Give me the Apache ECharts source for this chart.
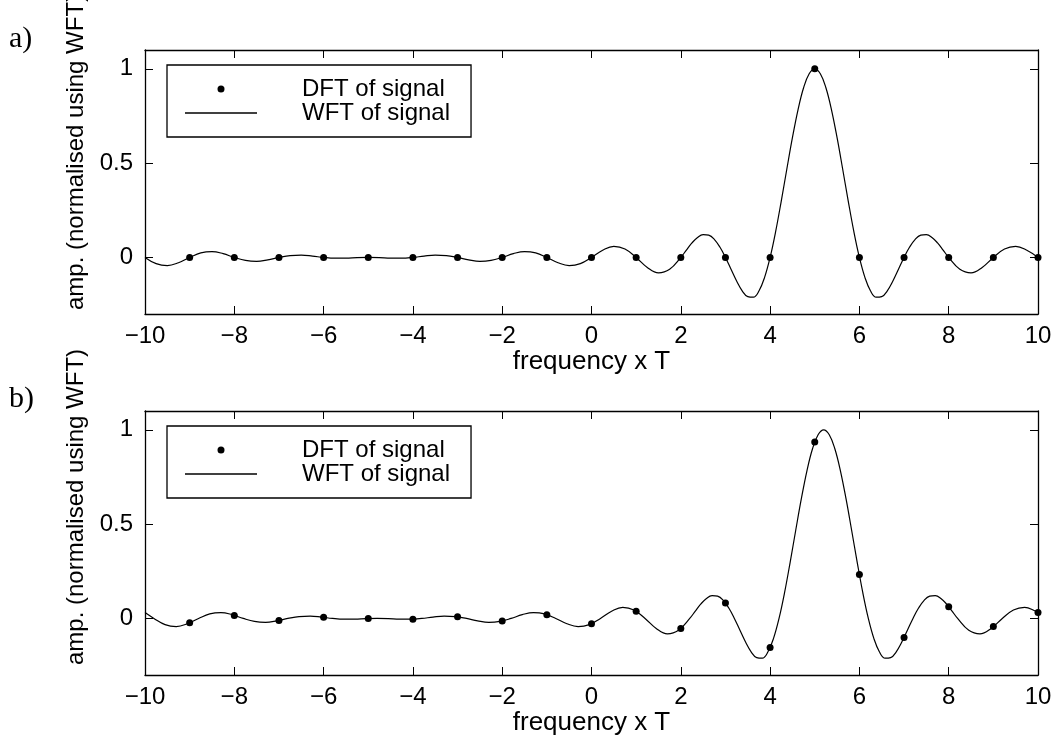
<!DOCTYPE html>
<html>
<head>
<meta charset="utf-8">
<title>DFT and WFT of signal</title>
<script src="https://cdn.jsdelivr.net/npm/echarts@6/dist/echarts.min.js"></script>
<style>
  html, body { margin: 0; padding: 0; background: #fff; }
  #chart { width: 1058px; height: 746px; }
</style>
</head>
<body>
<div id="chart"></div>
<script>
// Panel a): signal frequency falls exactly on a DFT bin (peak at 5)
const freqA = [-10,-9.75,-9.5,-9.25,-9,-8.75,-8.5,-8.25,-8,-7.75,-7.5,-7.25,-7,-6.75,-6.5,-6.25,-6,-5.75,-5.5,-5.25,
  -5,-4.75,-4.5,-4.25,-4,-3.75,-3.5,-3.25,-3,-2.75,-2.5,-2.25,-2,-1.75,-1.5,-1.25,-1,-0.75,-0.5,-0.25,
  0,0.25,0.5,0.75,1,1.25,1.5,1.75,
  2,2.125,2.25,2.375,2.5,2.625,2.75,2.875,3,3.125,3.25,3.375,3.5,3.625,3.75,3.875,
  4,4.125,4.25,4.375,4.5,4.625,4.75,4.875,5,5.125,5.25,5.375,5.5,5.625,5.75,5.875,
  6,6.125,6.25,6.375,6.5,6.625,6.75,6.875,7,7.125,7.25,7.375,7.5,7.625,7.75,7.875,8,
  8.25,8.5,8.75,9,9.25,9.5,9.75,10];
const wftA = [0,-0.033,-0.043,-0.028,0,0.024,0.031,0.020,0,-0.016,-0.021,-0.013,0,0.010,0.012,0.007,0,-0.004,-0.004,-0.001,
  0,-0.001,-0.004,-0.004,0,0.007,0.012,0.010,0,-0.013,-0.021,-0.016,0,0.020,0.031,0.024,0,-0.028,-0.043,-0.033,
  0,0.038,0.059,0.045,0,-0.053,-0.082,-0.063,
  0,0.039,0.077,0.106,0.121,0.118,0.096,0.055,0,-0.063,-0.125,-0.177,-0.208,-0.211,-0.178,-0.107,
  0,0.138,0.299,0.469,0.635,0.783,0.900,0.974,1,0.974,0.900,0.783,0.635,0.469,0.299,0.138,
  0,-0.107,-0.178,-0.211,-0.208,-0.177,-0.125,-0.063,0,0.055,0.096,0.118,0.121,0.106,0.077,0.039,0,
  -0.063,-0.082,-0.053,0,0.045,0.059,0.038,0];

// Panel b): signal frequency between bins (peak at 5.2)
const freqB = [-10,-9.8,-9.55,-9.3,-9.05,-8.8,-8.55,-8.3,-8.05,-7.8,-7.55,-7.3,-7.05,-6.8,-6.55,-6.3,-6.05,-5.8,-5.55,-5.3,
  -5.05,-4.8,-4.55,-4.3,-4.05,-3.8,-3.55,-3.3,-3.05,-2.8,-2.55,-2.3,-2.05,-1.8,-1.55,-1.3,-1.05,-0.8,-0.55,-0.3,
  -0.05,0.2,0.45,0.7,0.95,1.2,1.45,1.7,1.95,
  2.2,2.325,2.45,2.575,2.7,2.825,2.95,3.075,3.2,3.325,3.45,3.575,3.7,3.825,3.95,4.075,
  4.2,4.325,4.45,4.575,4.7,4.825,4.95,5.075,5.2,5.325,5.45,5.575,5.7,5.825,5.95,6.075,
  6.2,6.325,6.45,6.575,6.7,6.825,6.95,7.075,7.2,7.325,7.45,7.575,7.7,7.825,7.95,8.075,8.2,
  8.45,8.7,8.95,9.2,9.45,9.7,9.95,10];
const wftB = [0.031,0,-0.033,-0.043,-0.028,0,0.024,0.031,0.020,0,-0.016,-0.021,-0.013,0,0.010,0.012,0.007,0,-0.004,-0.004,
  -0.001,0,-0.001,-0.004,-0.004,0,0.007,0.012,0.010,0,-0.013,-0.021,-0.016,0,0.020,0.031,0.024,0,-0.028,-0.043,
  -0.033,0,0.038,0.059,0.045,0,-0.053,-0.082,-0.063,
  0,0.039,0.077,0.106,0.121,0.118,0.096,0.055,0,-0.063,-0.125,-0.177,-0.208,-0.211,-0.178,-0.107,
  0,0.138,0.299,0.469,0.635,0.783,0.900,0.974,1,0.974,0.900,0.783,0.635,0.469,0.299,0.138,
  0,-0.107,-0.178,-0.211,-0.208,-0.177,-0.125,-0.063,0,0.055,0.096,0.118,0.121,0.106,0.077,0.039,0,
  -0.063,-0.082,-0.053,0,0.045,0.059,0.038,0.031];

// DFT bins
const dftFreq = [-9,-8,-7,-6,-5,-4,-3,-2,-1,0,1,2,3,4,5,6,7,8,9,10];
const dftA = [0,0,0,0,0,0,0,0,0,0,0,0,0,0,1,0,0,0,0,0];
const dftB = [-0.023,0.016,-0.011,0.006,-0.001,-0.004,0.009,-0.014,0.020,-0.028,
  0.038,-0.053,0.082,-0.154,0.935,0.233,-0.101,0.062,-0.043,0.031];

// Axis ticks and labels
const xTicks = [-10,-8,-6,-4,-2,0,2,4,6,8,10];
const yTicks = [0,0.5,1];
const panelLabels = ['a)', 'b)'];
const xName = 'frequency x T';
const yName = 'amp. (normalised using WFT)';
const dftName = 'DFT of signal';
const wftName = 'WFT of signal';

const zip = (xs, ys) => xs.map((x, i) => [x, ys[i]]);

const FONT = '"Liberation Sans", Arial, Helvetica, sans-serif';
const BLACK = '#000';
const gridTops = [50, 411];
const GRID_H = 264;

const axisLineStyle = { show: true, onZero: false, lineStyle: { color: BLACK, width: 1.3 } };
const tickStyle = (vals) => ({ show: true, inside: true, length: 8, customValues: vals, lineStyle: { color: BLACK, width: 1 } });

const grids = gridTops.map(t => ({ left: 145, top: t, width: 893, height: GRID_H, outerBoundsMode: 'none' }));

const xAxes = [];
const yAxes = [];
gridTops.forEach((t, g) => {
  xAxes.push({
    gridIndex: g, type: 'value', position: 'bottom', min: -10, max: 10,
    axisLine: axisLineStyle, axisTick: tickStyle(xTicks), splitLine: { show: false },
    axisLabel: { show: true, customValues: xTicks, margin: 10, color: BLACK, fontSize: 24, fontFamily: FONT,
      formatter: v => String(v).replace('-', '\u2212') },
    name: xName, nameLocation: 'middle', nameGap: 31,
    nameTextStyle: { color: BLACK, fontSize: 26, fontFamily: FONT }
  });
  xAxes.push({
    gridIndex: g, type: 'value', position: 'top', min: -10, max: 10,
    axisLine: axisLineStyle, axisTick: tickStyle(xTicks), splitLine: { show: false },
    axisLabel: { show: false }
  });
  yAxes.push({
    gridIndex: g, type: 'value', position: 'left', min: -0.3, max: 1.1,
    axisLine: axisLineStyle, axisTick: tickStyle(yTicks), splitLine: { show: false },
    axisLabel: { show: true, customValues: yTicks, margin: 12, color: BLACK, fontSize: 24, fontFamily: FONT,
      formatter: v => String(v) },
    name: yName, nameLocation: 'middle', nameGap: 49,
    nameTextStyle: { color: BLACK, fontSize: 24, fontFamily: FONT, padding: g === 0 ? [0, 0, 0, 60] : [0, 0, 0, 72] }
  });
  yAxes.push({
    gridIndex: g, type: 'value', position: 'right', min: -0.3, max: 1.1,
    axisLine: axisLineStyle, axisTick: tickStyle(yTicks), splitLine: { show: false },
    axisLabel: { show: false }
  });
});

const legends = gridTops.map(t => ({
  orient: 'vertical', left: 167, top: t + 15,
  padding: [12, 21, 12, 18], itemGap: 0, itemWidth: 72, itemHeight: 7,
  borderColor: BLACK, borderWidth: 1.3, backgroundColor: '#fff',
  data: [
    { name: dftName, icon: 'circle' },
    { name: wftName, icon: 'path://M0 0H72V1.5H0Z' }
  ],
  formatter: name => '{g| }{t|' + name + '}',
  textStyle: {
    color: BLACK, fontSize: 24, fontFamily: FONT, lineHeight: 24,
    rich: { g: { width: 40, fontSize: 24, lineHeight: 24 }, t: { color: BLACK, fontSize: 24, fontFamily: FONT, lineHeight: 24 } }
  }
}));

const series = [];
[[freqA, wftA, dftA], [freqB, wftB, dftB]].forEach(([fq, wft, dft], g) => {
  series.push({
    name: wftName, type: 'line', xAxisIndex: 2 * g, yAxisIndex: 2 * g,
    data: zip(fq, wft), symbol: 'none', smooth: 0.4,
    lineStyle: { color: BLACK, width: 1.2 }, itemStyle: { color: BLACK }, z: 2, animation: false
  });
  series.push({
    name: dftName, type: 'scatter', xAxisIndex: 2 * g, yAxisIndex: 2 * g,
    data: zip(dftFreq, dft), symbol: 'circle', symbolSize: 7, clip: false,
    itemStyle: { color: BLACK, opacity: 1 }, z: 3, animation: false
  });
});

const titles = panelLabels.map((txt, g) => ({
  text: txt, left: 9, top: g === 0 ? 24 : 384, padding: 0,
  textStyle: { color: BLACK, fontSize: 30, fontWeight: 'normal', fontFamily: '"Liberation Serif", "DejaVu Serif", serif' }
}));

const chart = echarts.init(document.getElementById('chart'), null, { renderer: 'canvas' });
chart.setOption({
  backgroundColor: '#fff',
  animation: false,
  title: titles,
  grid: grids,
  xAxis: xAxes,
  yAxis: yAxes,
  legend: legends,
  series: series
});
</script>
</body>
</html>
